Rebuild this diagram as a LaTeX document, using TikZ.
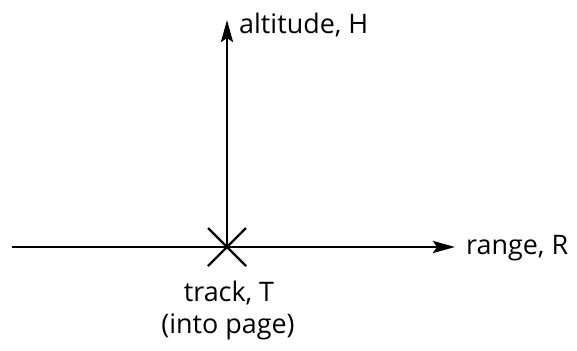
\documentclass[tikz,border=0pt]{standalone}
\usepackage{fontspec}
\setmainfont{Open Sans}
\usetikzlibrary{arrows.meta, calc}
\begin{document}
\begin{tikzpicture}[x=1bp, y=-1bp, >={Stealth[length=22bp, width=12bp, inset=4bp]}, lbl/.style={inner sep=0pt, font=\fontsize{27}{29}\selectfont}]
\useasboundingbox (0,0) rectangle (577,350);
\coordinate (o) at (227,247);
\coordinate (left) at (12,247);
\coordinate (rtip) at (455,247);
\coordinate (utip) at (227,20);
\node[lbl, anchor=base west] (alt) at (239,33) {altitude, H};
\node[lbl, anchor=base west] (rng) at (466,254) {range, R};
\node[lbl, anchor=base] (trk) at (229,301) {track, T};
\node[lbl, anchor=base] (pg) at (228,333) {(into page)};

\draw[line width=2.8bp, ->] (left) -- (rtip);
\draw[line width=2.8bp, ->] (o) -- (utip);
\draw[line width=2.2bp] ($(o)+(-19,-19)$) -- ($(o)+(19,19)$);
\draw[line width=2.2bp] ($(o)+(-19,19)$) -- ($(o)+(19,-19)$);
\end{tikzpicture}
\end{document}
